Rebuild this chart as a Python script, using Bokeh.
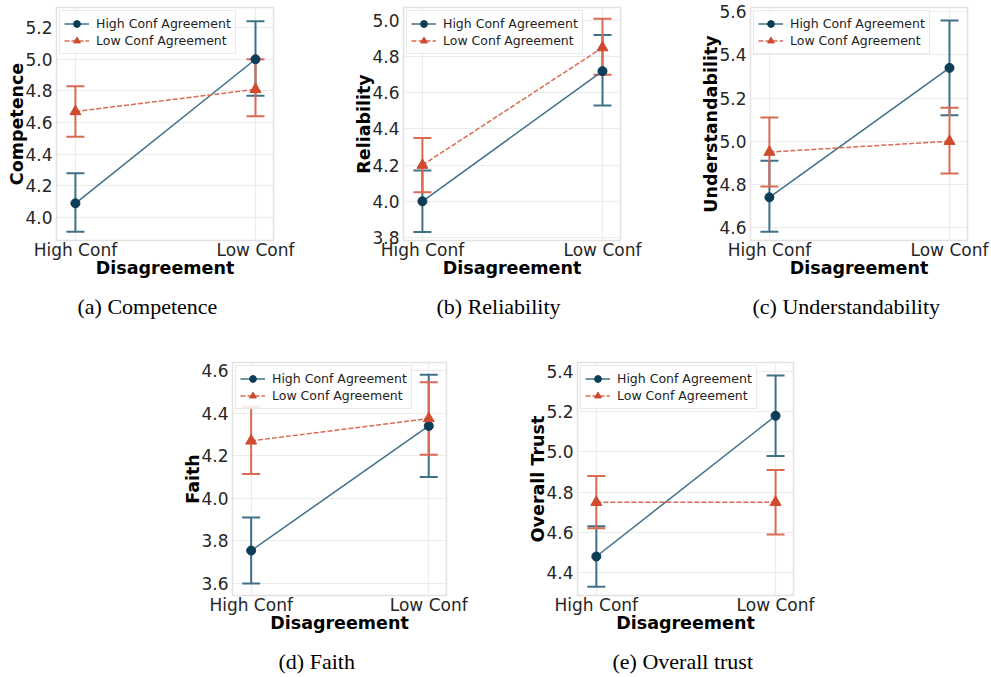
from bokeh.plotting import figure
from bokeh.models import (ColumnDataSource, Whisker, TeeHead, FixedTicker, Legend,
                          LegendItem, Title, Spacer, NumeralTickFormatter)
from bokeh.layouts import row, column
from bokeh.embed import file_html
from bokeh.resources import INLINE

# ---------------- data ----------------
categories = ["High Conf", "Low Conf"]
series_names = ["High Conf Agreement", "Low Conf Agreement"]
x_label = "Disagreement"

competence_high = [4.09, 5.00]
competence_high_lo = [3.91, 4.77]
competence_high_up = [4.28, 5.24]
competence_low = [4.67, 4.81]
competence_low_lo = [4.51, 4.64]
competence_low_up = [4.83, 5.00]
competence_ticks = [4.0, 4.2, 4.4, 4.6, 4.8, 5.0, 5.2]

reliability_high = [4.00, 4.72]
reliability_high_lo = [3.83, 4.53]
reliability_high_up = [4.17, 4.92]
reliability_low = [4.20, 4.85]
reliability_low_lo = [4.05, 4.70]
reliability_low_up = [4.35, 5.01]
reliability_ticks = [3.8, 4.0, 4.2, 4.4, 4.6, 4.8, 5.0]

understand_high = [4.74, 5.34]
understand_high_lo = [4.58, 5.12]
understand_high_up = [4.91, 5.56]
understand_low = [4.95, 5.00]
understand_low_lo = [4.79, 4.85]
understand_low_up = [5.11, 5.155]
understand_ticks = [4.6, 4.8, 5.0, 5.2, 5.4, 5.6]

faith_high = [3.755, 4.34]
faith_high_lo = [3.60, 4.10]
faith_high_up = [3.91, 4.58]
faith_low = [4.27, 4.375]
faith_low_lo = [4.115, 4.205]
faith_low_up = [4.43, 4.545]
faith_ticks = [3.6, 3.8, 4.0, 4.2, 4.4, 4.6]

trust_high = [4.48, 5.18]
trust_high_lo = [4.33, 4.98]
trust_high_up = [4.63, 5.38]
trust_low = [4.75, 4.75]
trust_low_lo = [4.62, 4.59]
trust_low_up = [4.88, 4.91]
trust_ticks = [4.4, 4.6, 4.8, 5.0, 5.2, 5.4]

# ---------------- style ----------------
HI_MARK = "#0b3d56"
HI_LINE = "#3f7088"
LO_MARK = "#cf4a2e"
LO_LINE = "#db6a53"
FONT = "DejaVu Sans"
CAP_FONT = "Liberation Serif"


def make_panel(ylabel, caption, hi, hi_lo, hi_up, lo, lo_lo, lo_up, ticks,
               y_rng, width, height, bl, br, bt, bb, cap_off):
    xs = list(range(len(categories)))
    p = figure(width=width, height=height, x_range=(-0.105, 1.1), y_range=y_rng,
               output_backend="svg", toolbar_location=None,
               min_border_left=bl, min_border_right=br,
               min_border_top=bt, min_border_bottom=bb,
               outline_line_color="#e2e2e2", outline_line_width=1.5,
               background_fill_color="white", border_fill_color="white")

    src_hi = ColumnDataSource(dict(x=xs, y=hi, lo=hi_lo, up=hi_up))
    src_lo = ColumnDataSource(dict(x=xs, y=lo, lo=lo_lo, up=lo_up))

    for src, col in ((src_hi, HI_LINE), (src_lo, LO_LINE)):
        w = Whisker(base="x", lower="lo", upper="up", source=src,
                    line_color=col, line_width=2, level="underlay",
                    upper_head=TeeHead(size=18, line_color=col, line_width=2),
                    lower_head=TeeHead(size=18, line_color=col, line_width=2))
        p.add_layout(w)

    l1 = p.line("x", "y", source=src_hi, line_color=HI_LINE, line_width=1.5)
    m1 = p.scatter("x", "y", source=src_hi, marker="circle", size=9,
                   fill_color=HI_MARK, line_color=HI_MARK)
    l2 = p.line("x", "y", source=src_lo, line_color=LO_LINE, line_width=1.5,
                line_dash="5 2")
    m2 = p.scatter("x", "y", source=src_lo, marker="triangle", size=11,
                   fill_color=LO_MARK, line_color=LO_MARK)

    legend = Legend(items=[LegendItem(label=series_names[0], renderers=[l1, m1]),
                           LegendItem(label=series_names[1], renderers=[l2, m2])],
                    location="top_left", margin=3, padding=4, spacing=0,
                    label_height=17, glyph_height=17, glyph_width=25,
                    label_standoff=7, label_text_font=FONT,
                    label_text_font_size="12.5px", label_text_color="#222222",
                    border_line_color="#d4d4d4", border_line_width=1,
                    background_fill_color="white", background_fill_alpha=0.85)
    p.add_layout(legend)

    p.xaxis.ticker = FixedTicker(ticks=xs)
    p.xaxis.major_label_overrides = {i: c for i, c in enumerate(categories)}
    p.yaxis.ticker = FixedTicker(ticks=ticks)
    p.yaxis.formatter = NumeralTickFormatter(format="0.0")
    for ax in (p.xaxis, p.yaxis):
        ax.axis_line_color = None
        ax.major_tick_line_color = None
        ax.minor_tick_line_color = None
        ax.major_tick_out = 0
        ax.major_tick_in = 0
        ax.major_label_text_font = FONT
        ax.major_label_text_font_size = "17px"
        ax.major_label_text_color = "#262626"
        ax.axis_label_text_font = FONT
        ax.axis_label_text_font_size = "17.5px"
        ax.axis_label_text_font_style = "bold"
        ax.axis_label_text_color = "black"
    p.xaxis.axis_label = x_label
    p.yaxis.axis_label = ylabel
    p.xaxis.major_label_standoff = -1
    p.xaxis.axis_label_standoff = -5
    p.yaxis.major_label_standoff = 4
    p.yaxis.axis_label_standoff = -5

    p.xgrid.grid_line_color = "#ececec"
    p.ygrid.grid_line_color = "#ececec"
    p.xgrid.grid_line_width = 1.2
    p.ygrid.grid_line_width = 1.2

    gap = Title(text=" ", text_font_size="1px", standoff=10)
    p.add_layout(gap, "below")
    t = Title(text=caption, align="left", offset=cap_off, vertical_align="top",
              standoff=0, text_font=CAP_FONT, text_font_size="22px",
              text_font_style="normal", text_color="black")
    p.add_layout(t, "below")
    return p


pa = make_panel("Competence", "(a) Competence", competence_high, competence_high_lo,
                competence_high_up, competence_low, competence_low_lo, competence_low_up,
                competence_ticks, (3.855, 5.327), 330, 356, 56, 57, 7, 116, 21)
pb = make_panel("Reliability", "(b) Reliability", reliability_high, reliability_high_lo,
                reliability_high_up, reliability_low, reliability_low_lo, reliability_low_up,
                reliability_ticks, (3.783, 5.072), 330, 356, 73, 40, 7, 116, 33)
pc = make_panel("Understandability", "(c) Understandability", understand_high,
                understand_high_lo, understand_high_up, understand_low, understand_low_lo,
                understand_low_up, understand_ticks, (4.54, 5.62), 330, 356, 90, 23, 7, 116, 2)
pd = make_panel("Faith", "(d) Faith", faith_high, faith_high_lo, faith_high_up,
                faith_low, faith_low_lo, faith_low_up, faith_ticks, (3.544, 4.638),
                330, 321, 50, 64, 6, 82, 46)
pe = make_panel("Overall Trust", "(e) Overall trust", trust_high, trust_high_lo,
                trust_high_up, trust_low, trust_low_lo, trust_low_up, trust_ticks,
                (4.286, 5.445), 330, 321, 67, 47, 6, 82, 35)

layout = column(row(pa, pb, pc), row(Spacer(width=180, height=321), pd, pe))

open("out.html", "w").write(file_html(layout, INLINE))
